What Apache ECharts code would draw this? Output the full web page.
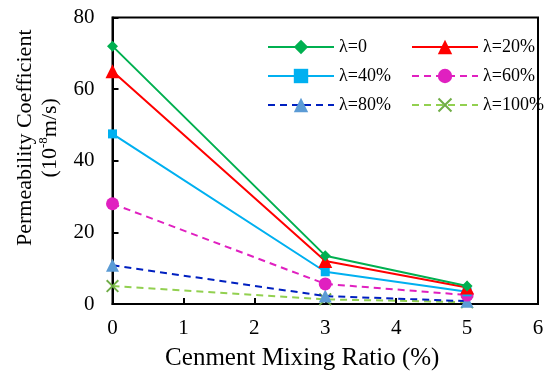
<!DOCTYPE html>
<html><head><meta charset="utf-8">
<script src="https://cdn.jsdelivr.net/npm/echarts@6/dist/echarts.min.js"></script>
<style>html,body{margin:0;padding:0;background:#fff}#c{width:550px;height:378px}</style>
</head><body><div id="c"></div>
<script>
const xValues = [0, 3, 5];
const seriesNames = ['λ=0', 'λ=20%', 'λ=40%', 'λ=60%', 'λ=80%', 'λ=100%'];
const s0 = [72, 13.5, 5.0];
const s20 = [65, 12, 4.6];
const s40 = [47.5, 9, 3.4];
const s60 = [28, 5.6, 2.5];
const s80 = [10.8, 2.2, 0.8];
const s100 = [5, 1.3, 0.5];
const xTicks = [0, 1, 2, 3, 4, 5, 6];
const yTicks = [0, 20, 40, 60, 80];

const FONT = 'Liberation Serif';
const X_PATH = 'path://M0,2 L2,0 L10,8 L18,0 L20,2 L12,10 L20,18 L18,20 L10,12 L2,20 L0,18 L8,10 Z';
const styles = [
  {line: '#00B050', mark: '#00B050', dash: 'solid', symbol: 'diamond', size: 11},
  {line: '#FF0000', mark: '#FF0000', dash: 'solid', symbol: 'triangle', size: 14},
  {line: '#00B0F0', mark: '#00B0F0', dash: 'solid', symbol: 'rect', size: 9},
  {line: '#E020C0', mark: '#E020C0', dash: [7, 5], symbol: 'circle', size: 13},
  {line: '#0020C0', mark: '#5B9BD5', dash: [7, 5], symbol: 'triangle', size: 13},
  {line: '#92D050', mark: '#70AD47', dash: [7, 5], symbol: X_PATH, size: 13}
];
const datasets = [s0, s20, s40, s60, s80, s100];

const series = datasets.map((d, i) => ({
  name: seriesNames[i],
  type: 'line',
  data: d.map((v, j) => [xValues[j], v]),
  symbol: styles[i].symbol,
  symbolSize: styles[i].size,
  showAllSymbol: true,
  lineStyle: {color: styles[i].line, width: 2, type: styles[i].dash},
  itemStyle: {color: styles[i].mark},
  z: 10 - i,
  animation: false
}));

const legendCommon = {
  orient: 'vertical',
  itemWidth: 66,
  itemHeight: 18,
  itemGap: 11,
  textStyle: {fontFamily: FONT, fontSize: 18, color: '#000'}
};

const chart = echarts.init(document.getElementById('c'));
chart.setOption({
  animation: false,
  grid: {left: 112.5, right: 12, top: 17.5, bottom: 74, show: true, borderColor: '#000', borderWidth: 2, backgroundColor: 'transparent'},
  legend: [
    Object.assign({}, legendCommon, {left: 262, top: 33, data: [seriesNames[0], seriesNames[2], seriesNames[4]]}),
    Object.assign({}, legendCommon, {left: 406, top: 33, data: [seriesNames[1], seriesNames[3], seriesNames[5]]})
  ],
  xAxis: {
    type: 'value', min: 0, max: 6, interval: 1,
    name: 'Cenment Mixing Ratio (%)',
    nameLocation: 'middle', nameGap: 42,
    nameTextStyle: {fontFamily: FONT, fontSize: 25, color: '#000', padding: [0, 46, 0, 0]},
    axisLine: {lineStyle: {color: '#000', width: 2}},
    axisTick: {inside: true, length: 6, lineStyle: {color: '#000', width: 2}},
    axisLabel: {fontFamily: FONT, fontSize: 21, color: '#000', margin: 14, formatter: v => xTicks.includes(v) ? String(v) : ''},
    splitLine: {show: false}
  },
  yAxis: {
    type: 'value', min: 0, max: 80, interval: 20,
    name: 'Permeability Coefficient\n({a|10}{s|-8}{a|m/s})',
    nameLocation: 'middle', nameGap: 50, nameRotate: 90,
    nameTextStyle: {
      fontFamily: FONT, fontSize: 22, color: '#000', lineHeight: 25, align: 'center', padding: [0, 0, 0, 46],
      rich: {
        a: {fontFamily: FONT, fontSize: 22, color: '#000', lineHeight: 25},
        s: {fontFamily: FONT, fontSize: 13, color: '#000', lineHeight: 25, verticalAlign: 'top', padding: [0, 0, 8, 0]}
      }
    },
    axisLine: {show: true, lineStyle: {color: '#000', width: 2}},
    axisTick: {show: true, inside: true, length: 6, lineStyle: {color: '#000', width: 2}},
    axisLabel: {fontFamily: FONT, fontSize: 21, color: '#000', margin: 18, formatter: v => yTicks.includes(v) ? String(v) : ''},
    splitLine: {show: false}
  },
  series: series
});
</script></body></html>
